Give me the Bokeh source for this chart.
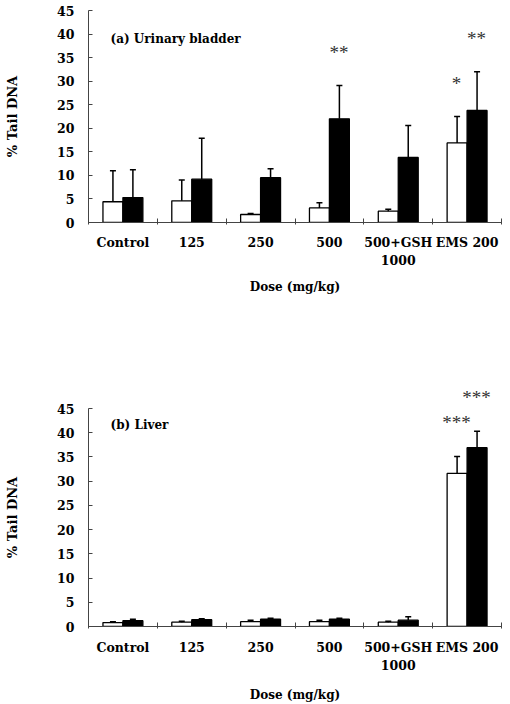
import numpy as np
from bokeh.plotting import figure
from bokeh.layouts import column
from bokeh.models import (ColumnDataSource, Range1d, FixedTicker,
                          SingleIntervalTicker, Label, HTMLLabelSet)
from bokeh.embed import file_html
from bokeh.resources import INLINE

# Dose groups (x categories)
doses = ["Control", "125", "250", "500", "500+GSH\n1000", "EMS 200"]

# (a) Urinary bladder: % tail DNA, mean and SD (upper error bar)
bladder_open = [4.4, 4.6, 1.7, 3.1, 2.4, 16.9]
bladder_open_sd = [6.6, 4.4, 0.2, 1.1, 0.4, 5.6]
bladder_filled = [5.3, 9.2, 9.5, 22.0, 13.8, 23.8]
bladder_filled_sd = [5.9, 8.7, 1.9, 7.1, 6.8, 8.2]
bladder_open_sig = ["", "", "", "", "", "*"]
bladder_filled_sig = ["", "", "", "**", "", "**"]

# (b) Liver
liver_open = [0.8, 0.9, 1.0, 1.0, 0.9, 31.6]
liver_open_sd = [0.2, 0.2, 0.3, 0.3, 0.2, 3.5]
liver_filled = [1.2, 1.4, 1.5, 1.5, 1.3, 36.9]
liver_filled_sd = [0.3, 0.2, 0.2, 0.2, 0.7, 3.4]
liver_open_sig = ["", "", "", "", "", "***"]
liver_filled_sig = ["", "", "", "", "", "***"]

y_ticks_step = 5
y_max = 45

FONT = "DejaVu Serif"
AXIS_COLOR = "#444444"
BAR_W = 0.29
SHIFT = 0.145
STAR_GAP = 6.8


def series_source(xs, vals, sd, sig):
    vals = np.asarray(vals, dtype=float)
    err = vals + np.asarray(sd, dtype=float)
    return ColumnDataSource(dict(x=xs, top=vals, err=err, sig=sig,
                                 star_y=err + STAR_GAP))


def panel(title, o_vals, o_sd, f_vals, f_sd, o_sig, f_sig,
          height, border_top, border_bottom, title_y,
          tick_standoff, xlabel_standoff):
    n = len(doses)
    centers = np.arange(n, dtype=float)
    p = figure(width=510, height=height,
               x_range=Range1d(-0.5, n - 0.5), y_range=Range1d(0, y_max),
               output_backend="svg", toolbar_location=None,
               min_border_left=88, min_border_right=9,
               min_border_top=border_top, min_border_bottom=border_bottom)
    p.outline_line_color = None
    p.xgrid.visible = False
    p.ygrid.visible = False
    p.background_fill_color = "white"

    for xs, vals, sd, sig, fill in (
            (centers - SHIFT, o_vals, o_sd, o_sig, "white"),
            (centers + SHIFT, f_vals, f_sd, f_sig, "black")):
        src = series_source(xs, vals, sd, sig)
        p.vbar(x="x", top="top", bottom=0, width=BAR_W, source=src,
               fill_color=fill, line_color="black", line_width=1.3)
        p.segment(x0="x", y0="top", x1="x", y1="err", source=src,
                  line_color="black", line_width=1.5)
        p.scatter(x="x", y="err", marker="dash", size=6, source=src,
                  line_color="black", line_width=1.5)
        p.add_layout(HTMLLabelSet(x="x", y="star_y", text="sig", source=src,
                                  text_align="center",
                                  text_baseline="alphabetic",
                                  text_font="DejaVu Sans",
                                  text_font_size="19px",
                                  text_color="#333333"))

    # x axis: ticks at group boundaries, labels at group centres
    xa = p.xaxis[0]
    xa.ticker = FixedTicker(ticks=list(range(n)),
                            minor_ticks=list(np.arange(n + 1) - 0.5))
    xa.major_label_overrides = {i: d for i, d in enumerate(doses)}
    xa.major_tick_line_color = None
    xa.major_tick_in = 0
    xa.major_tick_out = 0
    xa.minor_tick_line_color = AXIS_COLOR
    xa.minor_tick_in = 4
    xa.minor_tick_out = 2
    xa.axis_line_color = AXIS_COLOR
    xa.major_label_standoff = tick_standoff
    xa.major_label_text_font = FONT
    xa.major_label_text_font_style = "bold"
    xa.major_label_text_font_size = "12.5px"
    xa.major_label_text_color = "black"
    xa.axis_label = "Dose (mg/kg)"
    xa.axis_label_text_font = FONT
    xa.axis_label_text_font_style = "bold"
    xa.axis_label_text_font_size = "12px"
    xa.axis_label_text_color = "black"
    xa.axis_label_standoff = xlabel_standoff

    ya = p.yaxis[0]
    ya.ticker = SingleIntervalTicker(interval=y_ticks_step, num_minor_ticks=0)
    ya.bounds = (0, y_max)
    ya.axis_line_color = AXIS_COLOR
    ya.major_tick_line_color = AXIS_COLOR
    ya.major_tick_in = 4
    ya.major_tick_out = 0
    ya.minor_tick_line_color = None
    ya.major_label_standoff = 14
    ya.major_label_text_font = FONT
    ya.major_label_text_font_style = "bold"
    ya.major_label_text_font_size = "12.5px"
    ya.major_label_text_color = "black"
    ya.axis_label = "% Tail DNA"
    ya.axis_label_text_font = FONT
    ya.axis_label_text_font_style = "bold"
    ya.axis_label_text_font_size = "13px"
    ya.axis_label_text_color = "black"
    ya.axis_label_standoff = 34

    p.add_layout(Label(x=-0.18, y=title_y, text=title,
                       text_font=FONT, text_font_style="bold",
                       text_font_size="12px", text_baseline="middle",
                       text_color="black"))
    return p


p_a = panel("(a) Urinary bladder", bladder_open, bladder_open_sd,
            bladder_filled, bladder_filled_sd, bladder_open_sig,
            bladder_filled_sig, height=330, border_top=10,
            border_bottom=108, title_y=39.0,
            tick_standoff=10, xlabel_standoff=9)
p_b = panel("(b) Liver", liver_open, liver_open_sd,
            liver_filled, liver_filled_sd, liver_open_sig,
            liver_filled_sig, height=374, border_top=78,
            border_bottom=76, title_y=41.5,
            tick_standoff=11, xlabel_standoff=12)

layout = column(p_a, p_b, spacing=0)
open("out.html", "w").write(file_html(layout, INLINE))
